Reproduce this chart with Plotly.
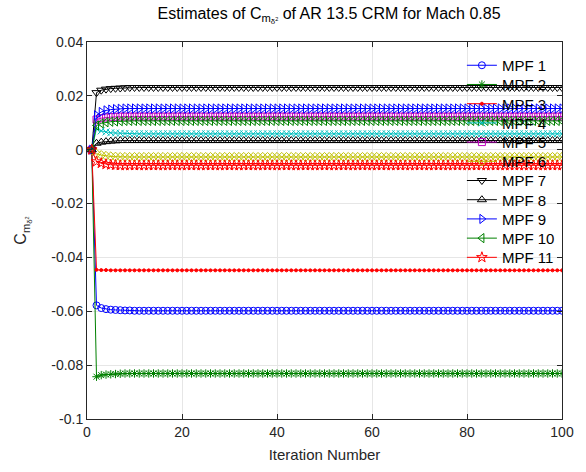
import plotly.graph_objects as go

# Iteration axis
iterations = list(range(1, 101))

# Early transient values for each MPF estimate, followed by the settled value
mpf_names = ["MPF 1", "MPF 2", "MPF 3", "MPF 4", "MPF 5", "MPF 6",
             "MPF 7", "MPF 8", "MPF 9", "MPF 10", "MPF 11"]

mpf1_start = [0, -0.0578, -0.0588, -0.0592, -0.0594, -0.0595, -0.0596, -0.0597, -0.0597]
mpf1_settled = -0.0598
mpf2_start = [0, -0.0843, -0.0837, -0.0835, -0.0834, -0.0833, -0.0832]
mpf2_settled = -0.0831
mpf3_start = [0, -0.0446, -0.0447, -0.0447]
mpf3_settled = -0.0448
mpf4_start = [0, 0.0078, 0.0070, 0.0066, 0.0063, 0.0062, 0.0061, 0.0060]
mpf4_settled = 0.0059
mpf5_start = [0, 0.0112, 0.0117, 0.0120, 0.0121, 0.0122]
mpf5_settled = 0.0123
mpf6_start = [0, -0.0015, -0.0020, -0.0023, -0.0025, -0.0026]
mpf6_settled = -0.0027
mpf7_start = [0, 0.0212, 0.0221, 0.0225, 0.0227, 0.0228, 0.0229, 0.0230]
mpf7_settled = 0.0231
mpf8_start = [0, 0.0024, 0.0028, 0.0030, 0.0032, 0.0033]
mpf8_settled = 0.0034
mpf9_start = [0, 0.0128, 0.0140, 0.0146, 0.0149, 0.0151, 0.0152]
mpf9_settled = 0.0153
mpf10_start = [0, 0.0090, 0.0098, 0.0102, 0.0104, 0.0105, 0.0106]
mpf10_settled = 0.0107
mpf11_start = [0, -0.0044, -0.0050, -0.0054, -0.0056, -0.0057]
mpf11_settled = -0.0058

starts = [mpf1_start, mpf2_start, mpf3_start, mpf4_start, mpf5_start, mpf6_start,
          mpf7_start, mpf8_start, mpf9_start, mpf10_start, mpf11_start]
settled = [mpf1_settled, mpf2_settled, mpf3_settled, mpf4_settled, mpf5_settled,
           mpf6_settled, mpf7_settled, mpf8_settled, mpf9_settled, mpf10_settled,
           mpf11_settled]

y_tick_vals = [-0.1, -0.08, -0.06, -0.04, -0.02, 0, 0.02, 0.04]
y_tick_text = ["-0.1", "-0.08", "-0.06", "-0.04", "-0.02", "0", "0.02", "0.04"]
x_tick_vals = [0, 20, 40, 60, 80, 100]

# Line colours and marker shapes per series
colors = ["#0000ff", "#008000", "#ff0000", "#00bfbf", "#bf00bf", "#bfbf00",
          "#000000", "#000000", "#0000ff", "#008000", "#ff0000"]
symbols = ["circle-open", "asterisk-open", "circle", "x-thin-open", "square-open",
           "diamond-open", "triangle-down-open", "triangle-up-open",
           "triangle-right-open", "triangle-left-open", "star-open"]
sizes = [7, 7, 3, 7, 7, 7, 8, 8, 8, 8, 8]

FONT = "Liberation Sans, Arial, Helvetica, sans-serif"
W, H = 586, 472
L, R, T, B = 87, 15, 42, 50
plot_w = W - L - R
plot_h = H - T - B

fig = go.Figure()
legend_layouts = {}
for i, name in enumerate(mpf_names):
    values = starts[i] + [settled[i]] * (len(iterations) - len(starts[i]))
    legend_id = "legend" if i == 0 else f"legend{i + 1}"
    fig.add_trace(go.Scatter(
        x=iterations, y=values, name=name, mode="lines+markers",
        line=dict(color=colors[i], width=1),
        marker=dict(symbol=symbols[i], size=sizes[i], color=colors[i],
                    line=dict(color=colors[i], width=1)),
        legend=legend_id, showlegend=True,
    ))
    # one entry per legend box so the rows sit at an even pitch
    row_px = 65.7 + 19.36 * i
    legend_layouts[legend_id] = dict(
        x=(469 - L) / plot_w, xanchor="left",
        y=(H - B - row_px) / plot_h, yanchor="middle",
        bgcolor="rgba(0,0,0,0)", borderwidth=0,
        font=dict(family=FONT, size=15, color="#000000"),
        itemwidth=30,
    )

axis_common = dict(
    showline=True, linecolor="#262626", linewidth=1, mirror="allticks",
    ticks="inside", ticklen=5, tickcolor="#262626",
    showgrid=True, gridcolor="#e6e6e6", gridwidth=1,
    zeroline=False,
    tickfont=dict(family=FONT, size=14, color="#262626"),
)

fig.update_layout(
    width=W, height=H,
    margin=dict(l=L, r=R, t=T, b=B),
    paper_bgcolor="white", plot_bgcolor="white",
    title=dict(
        text="Estimates of C<sub>m<sub>δ<sup>2</sup></sub></sub> of AR 13.5 CRM for Mach 0.85",
        x=(L + plot_w / 2) / W, xanchor="center",
        y=1 - 13 / H, yanchor="middle",
        font=dict(family=FONT, size=16, color="#000000"),
    ),
    xaxis=dict(range=[0, 100], tickvals=x_tick_vals,
               title=dict(text="Iteration Number", standoff=10,
                          font=dict(family=FONT, size=15, color="#262626")),
               **axis_common),
    yaxis=dict(range=[-0.1, 0.04], tickvals=y_tick_vals, ticktext=y_tick_text,
               title=dict(text="C<sub>m<sub>δ<sup>2</sup></sub></sub>", standoff=20,
                          font=dict(family=FONT, size=16, color="#262626")),
               **axis_common),
    **legend_layouts,
)

fig.write_html("out.html")
